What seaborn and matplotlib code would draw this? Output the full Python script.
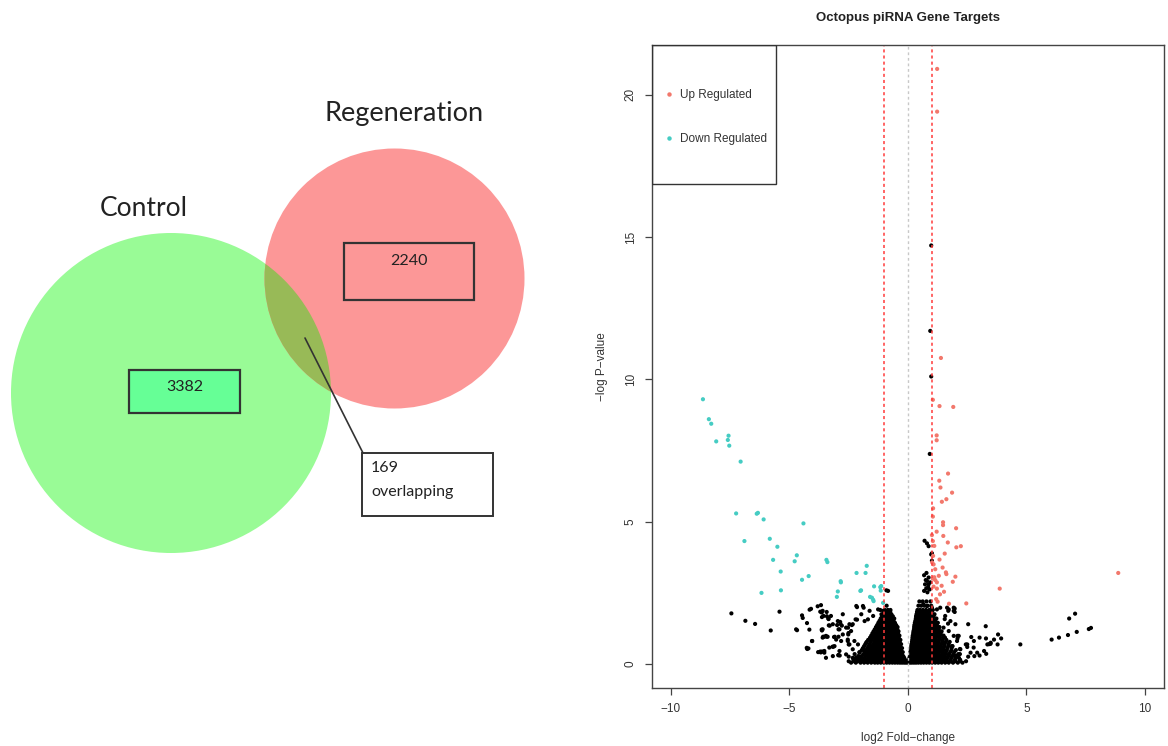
import numpy as np
import pandas as pd
import matplotlib.pyplot as plt
import seaborn as sns
from matplotlib.patches import Circle, Rectangle
from matplotlib.lines import Line2D

# Venn counts
set_names = ['Control', 'Regeneration']
only_counts = [3382, 2240]
overlap_count = 169

# Volcano: up regulated (log2FC, -log p)
up_x = [1.23, 1.23, 1.39, 1.05, 1.33, 1.91, 1.21, 1.21, 1.69, 1.32, 1.37, 1.86, 1.62, 1.43, 1.06,
        1.05, 1.48, 1.48, 2.03, 1.21, 1.01, 1.49, 1.68, 1.05, 1.11, 2.23, 2.04, 1.55, 1.06, 1.33,
        1.02, 1.08, 1.46, 1.60, 1.62, 1.15, 2.00, 1.89, 1.11, 1.22, 1.42, 1.22, 1.52, 3.87, 8.87,
        1.19, 1.25, 1.73, 2.46, 1.05, 1.15, 1.30, 1.08, 1.35]
up_y = [20.9, 19.4, 10.75, 9.28, 9.06, 9.03, 8.03, 7.86, 6.69, 6.44, 6.20, 6.02, 5.79, 5.70, 5.47,
        5.18, 4.98, 4.88, 4.77, 4.65, 4.53, 4.50, 4.27, 4.32, 4.15, 4.14, 4.10, 3.88, 3.80, 3.67,
        3.57, 3.50, 3.39, 3.22, 3.16, 3.33, 3.07, 2.89, 3.05, 2.87, 2.75, 2.65, 2.54, 2.65, 3.20,
        2.28, 2.19, 2.12, 2.13, 3.00, 2.95, 3.10, 2.72, 2.45]

# down regulated
down_x = [-8.65, -8.40, -8.30, -8.09, -7.57, -7.60, -7.54, -7.06, -7.25, -6.38, -6.33, -6.09, -4.41,
          -6.90, -5.83, -5.51, -4.69, -5.69, -4.78, -3.44, -3.40, -1.74, -5.37, -2.17, -1.79, -4.19,
          -4.47, -2.84, -2.83, -1.43, -1.17, -1.15, -6.18, -5.36, -2.96, -3.00, -2.01, -1.60, -1.52,
          -1.47, -1.45, -1.05, -1.98, -1.13]
down_y = [9.30, 8.60, 8.44, 7.82, 8.02, 7.87, 7.67, 7.11, 5.29, 5.28, 5.31, 5.08, 4.94,
          4.32, 4.40, 4.12, 3.82, 3.66, 3.61, 3.66, 3.58, 3.45, 3.25, 3.20, 3.20, 3.09,
          2.96, 2.91, 2.87, 2.73, 2.70, 2.58, 2.50, 2.59, 2.55, 2.36, 2.57, 2.36, 2.33,
          2.26, 2.21, 2.15, 2.59, 2.74]

# not significant, scattered points
ns_x = [-7.45, -6.86, -6.45, -5.79, -5.42, -4.72, -4.68, -4.47, -4.44, -4.26, -4.16, -4.15, -3.81, -3.67,
        -3.64, -3.56, -3.42, -3.35, -3.30, -3.63, -3.53, -3.39, -3.09, -2.93, -2.99, -2.86, -2.79, -4.04,
        -4.25, -4.20, -3.79, -3.68, -3.53, -3.15, -2.94, -2.88, -2.53, -2.47, -2.52, -2.54, -2.50,
        -3.60, -3.43, -3.25, -3.17, -2.96, -2.75, -2.89, -2.61, -2.40, -2.33, -2.21, -2.18, -1.97, -1.90,
        -1.83, -1.69, -1.62, -1.47, -1.26, -1.12, -1.05, -0.91, -0.84, -0.91,
        -3.60, -3.60, -3.46, -3.53, -3.32, -3.10, -3.03, -2.82, -2.75, -2.54, -2.47, -2.33, -2.26, -2.11,
        -2.04, -1.90, -1.76, -2.33, -2.16, -1.97, -2.61, -2.89, -3.17, -3.46, -3.70, -3.62, -2.93, -2.50,
        -2.14, -4.05, -4.27, -3.18, -3.12, -2.93, -2.85, -2.51, -2.37, -2.15, -2.15, -1.87, -4.09, -3.70,
        -3.63, -3.36, -3.34, -3.64, -3.58, -3.43, -1.17, -0.96, -0.75,
        0.98, 0.94, 0.98, 0.92, 0.70, 0.87, 1.01, 0.68, 0.80, 0.98, 1.01, 0.87, 0.80, 0.72, 0.87, 0.77,
        0.91, 0.68, 0.82, 0.94, 0.75, 0.85, 0.78, 0.65, 0.80, 1.01, 1.22, 1.36, 1.72, 1.93,
        1.65, 1.93, 1.57, 1.79, 2.00, 1.50, 1.72, 1.93, 2.07, 1.86, 2.21, 2.00, 2.50, 2.78, 2.64, 2.92,
        3.21, 3.35, 3.28, 3.49, 3.63, 3.78, 2.14,
        2.54, 3.80, 3.93, 4.74, 6.06, 6.37, 6.75, 6.80, 7.05, 7.12, 7.63, 7.72, 2.09, 2.09, 2.19, 2.19,
        2.44, 2.50, 2.67, 2.77, 3.02, 3.29, 3.42, 3.48, 2.54, 2.80, 3.02, 3.30, 2.18, 1.97, 1.97, 1.70,
        1.55, 1.69]
ns_y = [1.78, 1.52, 1.41, 1.18, 1.84, 1.22, 1.19, 1.71, 1.62, 1.44, 1.21, 1.91, 2.03, 2.07,
        1.81, 1.69, 1.68, 1.58, 1.35, 1.18, 0.96, 0.96, 0.96, 0.96, 1.37, 1.48, 1.35, 0.81,
        0.53, 0.55, 0.42, 0.41, 0.40, 0.61, 0.31, 0.30, 1.28, 1.40, 1.04, 0.81, 0.69,
        1.87, 1.83, 1.69, 1.40, 1.51, 1.75, 1.22, 1.28, 1.16, 1.40, 1.57, 2.04, 1.75, 2.04,
        1.51, 1.57, 1.87, 1.69, 1.92, 1.75, 1.87, 1.69, 2.57, 2.59,
        1.22, 0.93, 0.99, 0.46, 0.58, 0.63, 0.86, 0.81, 1.04, 0.86, 0.69, 0.52, 0.81, 0.69,
        0.40, 0.52, 0.75, 0.22, 0.17, 0.17, 0.34, 0.46, 0.28, 0.22, 0.44, 0.44, 0.32, 0.26,
        0.20, 0.81, 0.57, 0.61, 0.95, 1.22, 1.41, 1.09, 1.37, 2.00, 1.56, 1.98, 1.94, 1.84,
        1.65, 1.60, 1.36, 1.21, 0.96, 0.96, 1.90, 1.78, 1.84,
        14.7, 11.7, 10.1, 7.38, 4.33, 4.14, 3.89, 3.12, 4.24, 3.85, 3.63, 3.04, 2.92, 2.80, 2.80, 2.66,
        2.62, 2.57, 2.52, 2.87, 2.95, 2.70, 3.20, 2.10, 2.04, 1.98, 1.92, 1.98, 1.92, 1.98,
        1.98, 1.87, 1.69, 1.51, 1.40, 1.28, 1.16, 0.99, 0.81, 0.63, 0.52, 0.28, 0.69, 0.81, 0.40, 0.40,
        0.46, 0.69, 1.33, 0.75, 0.86, 0.69, 0.99,
        1.40, 1.04, 0.90, 0.69, 0.86, 0.93, 1.02, 1.60, 1.77, 1.13, 1.23, 1.27, 0.99, 0.90, 0.53, 0.35,
        0.69, 0.60, 0.95, 0.58, 0.93, 0.90, 0.70, 0.71, 0.26, 0.28, 0.30, 0.36, 0.15, 1.95, 1.83, 1.87,
        1.58, 1.42]

# not significant, dense core near zero (rows of -log p with their log2FC values)
core_levels = [0.05, 0.10, 0.15, 0.22, 0.28, 0.35, 0.42, 0.49, 0.56, 0.63, 0.70, 0.78, 0.85, 0.93,
               1.00, 1.08, 1.15, 1.22, 1.30, 1.37, 1.45, 1.52, 1.60, 1.68, 1.75, 1.83, 1.90, 2.05, 2.20]
core_x = [
    [-2.4, -2.2, -2.0, -1.85, -1.7, -1.55, -1.4, -1.28, -1.15, -1.02, -0.9, -0.78, -0.66, -0.55, -0.44,
     -0.34, -0.25, -0.16, -0.08, 0.0, 0.08, 0.16, 0.25, 0.34, 0.44, 0.55, 0.66, 0.78, 0.9, 1.02, 1.15,
     1.28, 1.42, 1.57, 1.72, 1.9, 2.1, 2.3],
    [-2.5, -2.28, -2.12, -1.95, -1.78, -1.62, -1.48, -1.34, -1.21, -1.08, -0.96, -0.84, -0.72, -0.6, -0.5,
     -0.39, -0.29, -0.2, -0.12, -0.04, 0.04, 0.12, 0.2, 0.3, 0.39, 0.5, 0.6, 0.72, 0.84, 0.96, 1.08,
     1.21, 1.35, 1.5, 1.65, 1.81, 2.0, 2.2, 2.45],
    [-2.3, -2.05, -1.9, -1.75, -1.6, -1.45, -1.32, -1.2, -1.07, -0.95, -0.83, -0.71, -0.6, -0.49, -0.39,
     -0.3, -0.2, -0.12, 0.05, 0.12, 0.2, 0.29, 0.38, 0.48, 0.6, 0.72, 0.84, 0.96, 1.08, 1.2, 1.34, 1.48,
     1.63, 1.8, 1.98, 2.2],
    [-2.2, -1.98, -1.82, -1.67, -1.53, -1.39, -1.26, -1.13, -1.01, -0.89, -0.77, -0.65, -0.55, -0.44,
     -0.34, -0.25, -0.16, 0.06, 0.14, 0.23, 0.32, 0.42, 0.53, 0.64, 0.76, 0.88, 1.0, 1.12, 1.25, 1.38,
     1.52, 1.67, 1.83, 2.0, 2.15],
    [-2.1, -1.95, -1.8, -1.65, -1.5, -1.37, -1.24, -1.11, -0.98, -0.86, -0.74, -0.62, -0.51, -0.41, -0.31,
     -0.2, 0.08, 0.16, 0.25, 0.34, 0.44, 0.55, 0.67, 0.79, 0.91, 1.03, 1.15, 1.28, 1.41, 1.55, 1.7, 1.86, 2.05],
    [-2.25, -1.88, -1.73, -1.58, -1.44, -1.31, -1.18, -1.05, -0.93, -0.81, -0.69, -0.58, -0.47, -0.37,
     -0.26, 0.09, 0.18, 0.27, 0.37, 0.47, 0.58, 0.69, 0.81, 0.93, 1.05, 1.17, 1.3, 1.44, 1.58, 1.73,
     1.92, 2.12],
    [-2.05, -1.82, -1.68, -1.53, -1.4, -1.27, -1.14, -1.01, -0.89, -0.77, -0.65, -0.54, -0.43, -0.32, -0.22,
     0.1, 0.19, 0.28, 0.38, 0.48, 0.59, 0.7, 0.82, 0.94, 1.06, 1.18, 1.31, 1.45, 1.6, 1.78, 1.95],
    [-1.95, -1.77, -1.62, -1.48, -1.35, -1.22, -1.09, -0.97, -0.85, -0.73, -0.62, -0.51, -0.4, -0.3, 0.12,
     0.21, 0.3, 0.4, 0.5, 0.61, 0.72, 0.84, 0.96, 1.08, 1.21, 1.34, 1.48, 1.64, 1.83, 2.02],
    [-1.9, -1.72, -1.57, -1.43, -1.3, -1.17, -1.04, -0.92, -0.8, -0.68, -0.57, -0.46, -0.35, -0.25, 0.13,
     0.22, 0.31, 0.41, 0.51, 0.62, 0.73, 0.85, 0.97, 1.09, 1.22, 1.36, 1.5, 1.66, 1.84],
    [-1.85, -1.67, -1.52, -1.38, -1.25, -1.12, -1.0, -0.88, -0.76, -0.64, -0.53, -0.43, -0.33, 0.14, 0.23,
     0.33, 0.43, 0.54, 0.65, 0.76, 0.88, 1.0, 1.12, 1.25, 1.39, 1.54, 1.7, 1.88],
    [-1.8, -1.62, -1.47, -1.33, -1.2, -1.07, -0.95, -0.83, -0.71, -0.6, -0.49, -0.38, -0.29, 0.15, 0.24,
     0.34, 0.44, 0.55, 0.66, 0.77, 0.89, 1.01, 1.13, 1.26, 1.4, 1.55, 1.72],
    [-1.74, -1.57, -1.42, -1.29, -1.16, -1.03, -0.91, -0.79, -0.68, -0.57, -0.46, -0.35, 0.17, 0.26, 0.36,
     0.46, 0.57, 0.68, 0.79, 0.91, 1.03, 1.16, 1.3, 1.45, 1.6, 1.76],
    [-1.68, -1.52, -1.37, -1.24, -1.11, -0.98, -0.86, -0.74, -0.63, -0.52, -0.41, -0.32, 0.18, 0.27, 0.37,
     0.47, 0.58, 0.69, 0.8, 0.92, 1.04, 1.17, 1.31, 1.46, 1.62],
    [-1.6, -1.46, -1.32, -1.19, -1.06, -0.94, -0.82, -0.71, -0.6, -0.49, -0.39, 0.19, 0.28, 0.38, 0.49,
     0.6, 0.71, 0.82, 0.94, 1.06, 1.19, 1.33, 1.48, 1.56],
    [-1.55, -1.4, -1.27, -1.14, -1.01, -0.89, -0.77, -0.66, -0.55, -0.44, -0.36, 0.2, 0.29, 0.39, 0.5,
     0.61, 0.72, 0.84, 0.96, 1.08, 1.21, 1.35, 1.5],
    [-1.5, -1.35, -1.22, -1.09, -0.97, -0.85, -0.74, -0.63, -0.52, -0.42, 0.22, 0.31, 0.41, 0.52, 0.63,
     0.74, 0.86, 0.98, 1.1, 1.24, 1.38],
    [-1.45, -1.3, -1.17, -1.04, -0.92, -0.8, -0.69, -0.58, -0.47, -0.4, 0.23, 0.32, 0.42, 0.53, 0.64,
     0.76, 0.88, 1.0, 1.13, 1.27, 1.42],
    [-1.4, -1.25, -1.12, -1.0, -0.88, -0.77, -0.66, -0.55, -0.45, 0.25, 0.34, 0.44, 0.55, 0.66, 0.78,
     0.9, 1.03, 1.16, 1.3],
    [-1.35, -1.2, -1.07, -0.95, -0.83, -0.72, -0.61, -0.5, -0.44, 0.26, 0.35, 0.46, 0.57, 0.68, 0.8,
     0.92, 1.05, 1.19, 1.33],
    [-1.3, -1.16, -1.03, -0.91, -0.8, -0.69, -0.58, -0.5, 0.27, 0.37, 0.48, 0.59, 0.7, 0.82, 0.95,
     1.08, 1.22],
    [-1.25, -1.1, -0.98, -0.86, -0.75, -0.64, -0.55, 0.29, 0.39, 0.5, 0.61, 0.73, 0.85, 0.98, 1.12, 1.26],
    [-1.2, -1.06, -0.93, -0.82, -0.71, -0.61, 0.31, 0.41, 0.52, 0.63, 0.75, 0.88, 1.01, 1.15],
    [-1.15, -1.0, -0.88, -0.77, -0.67, -0.58, 0.33, 0.43, 0.54, 0.66, 0.78, 0.91, 1.05, 1.2],
    [-1.1, -0.96, -0.84, -0.74, -0.64, 0.34, 0.45, 0.56, 0.68, 0.8, 0.94, 1.08],
    [-1.05, -0.92, -0.8, -0.7, 0.36, 0.47, 0.58, 0.7, 0.83, 0.97, 1.12],
    [-1.0, -0.88, -0.78, 0.38, 0.49, 0.61, 0.73, 0.86, 1.0],
    [-0.98, -0.85, -0.74, 0.4, 0.51, 0.63, 0.76, 0.9, 1.05],
    [-0.9, 0.44, 0.56, 0.69, 0.83, 0.98],
    [0.48, 0.62, 0.78, 0.95],
]

core_fc = [x for row in core_x for x in row]
core_p = [lv for lv, row in zip(core_levels, core_x) for _ in row]

df = pd.concat([
    pd.DataFrame({'fc': ns_x + core_fc, 'p': ns_y + core_p, 'group': 'NS'}),
    pd.DataFrame({'fc': down_x, 'p': down_y, 'group': 'Down Regulated'}),
    pd.DataFrame({'fc': up_x, 'p': up_y, 'group': 'Up Regulated'}),
], ignore_index=True)

sns.set_style('white')
plt.rcParams['font.family'] = ['Liberation Sans', 'DejaVu Sans']

colors = {'NS': '#000000', 'Up Regulated': '#F2786C', 'Down Regulated': '#45CCC3'}

fig = plt.figure(figsize=(11.68, 7.46), dpi=100)

# ---- Venn diagram (left half, pixel coordinates) ----
vax = fig.add_axes([0, 0, 0.5, 1])
vax.set_xlim(0, 584)
vax.set_ylim(746, 0)
vax.axis('off')
green = Circle((171, 393), 160, facecolor='#99FB96', edgecolor='none')
red = Circle((394.5, 278.5), 130, facecolor='#FC9797', edgecolor='none')
vax.add_patch(green)
vax.add_patch(red)
both = Circle((171, 393), 160, facecolor='#98BA57', edgecolor='none')
vax.add_patch(both)
both.set_clip_path(red)

vfont = ['Lato', 'DejaVu Sans']
vax.text(144, 208, set_names[0], fontsize=19, ha='center', va='center', family=vfont, color='#222222')
vax.text(404, 113, set_names[1], fontsize=19.5, ha='center', va='center', family=vfont, color='#222222')

vax.add_patch(Rectangle((129, 370), 111, 43, facecolor='#66FF96', edgecolor='#333333', lw=1.6))
vax.text(185, 387, str(only_counts[0]), fontsize=11.5, ha='center', va='center', family=vfont, color='#222222')
vax.add_patch(Rectangle((344, 243), 130, 57, facecolor='none', edgecolor='#333333', lw=1.6))
vax.text(409, 261, str(only_counts[1]), fontsize=11.5, ha='center', va='center', family=vfont, color='#222222')

vax.plot([305, 363], [338, 453], color='#333333', lw=1.2)
vax.add_patch(Rectangle((362, 453), 131, 63, facecolor='white', edgecolor='#333333', lw=1.4))
vax.text(371, 468, str(overlap_count), fontsize=11.5, ha='left', va='center', family=vfont, color='#222222')
vax.text(371, 492, 'overlapping', fontsize=11.5, ha='left', va='center', family=vfont, color='#222222')

# ---- Volcano plot ----
ax = fig.add_axes([0.5582, 0.07775, 0.43836, 0.86193])
sns.scatterplot(data=df, x='fc', y='p', hue='group', palette=colors, s=9, linewidth=0,
                legend=False, ax=ax)
ax.axvline(-1, color='#FF3B3B', ls=(0, (2, 2)), lw=1.1)
ax.axvline(1, color='#FF3B3B', ls=(0, (2, 2)), lw=1.1)
ax.axvline(0, color='#C8C8C8', ls=(0, (2, 2)), lw=1.0)
ax.set_xlim(-10.8, 10.8)
ax.set_ylim(-0.84, 21.74)
ax.set_xticks([-10, -5, 0, 5, 10])
ax.set_yticks([0, 5, 10, 15, 20])
ax.tick_params(axis='both', length=5, width=0.9, color='#444444', labelsize=8.5,
               labelcolor='#333333', pad=6, bottom=True, left=True)
plt.setp(ax.get_yticklabels(), rotation=90, va='center')
for sp in ax.spines.values():
    sp.set_color('#444444')
    sp.set_linewidth(1.0)
ax.set_xlabel('log2 Fold\u2212change', fontsize=8.5, color='#333333', labelpad=12)
ax.set_ylabel('\u2212log P\u2212value', fontsize=8.5, color='#333333', labelpad=12)
ax.set_title('Octopus piRNA Gene Targets', fontsize=9.5, fontweight='bold', color='#222222', pad=17)

# legend: R-style box in the top-left corner
ax.add_patch(Rectangle((0, 0.7838), 0.2422, 0.2162, transform=ax.transAxes, fill=False,
                       edgecolor='#333333', lw=1.0, zorder=5))
handles = [Line2D([], [], marker='o', ls='none', color=colors[g], markersize=3.2, markeredgewidth=0)
           for g in ['Up Regulated', 'Down Regulated']]
ax.legend(handles, ['Up Regulated', 'Down Regulated'], loc='upper left', bbox_to_anchor=(0.01, 0.94),
          frameon=False, fontsize=8.5, borderpad=0, labelspacing=2.7, handlelength=1.0,
          handletextpad=0.45, labelcolor='#333333')

fig.savefig('out.png', dpi=100)
